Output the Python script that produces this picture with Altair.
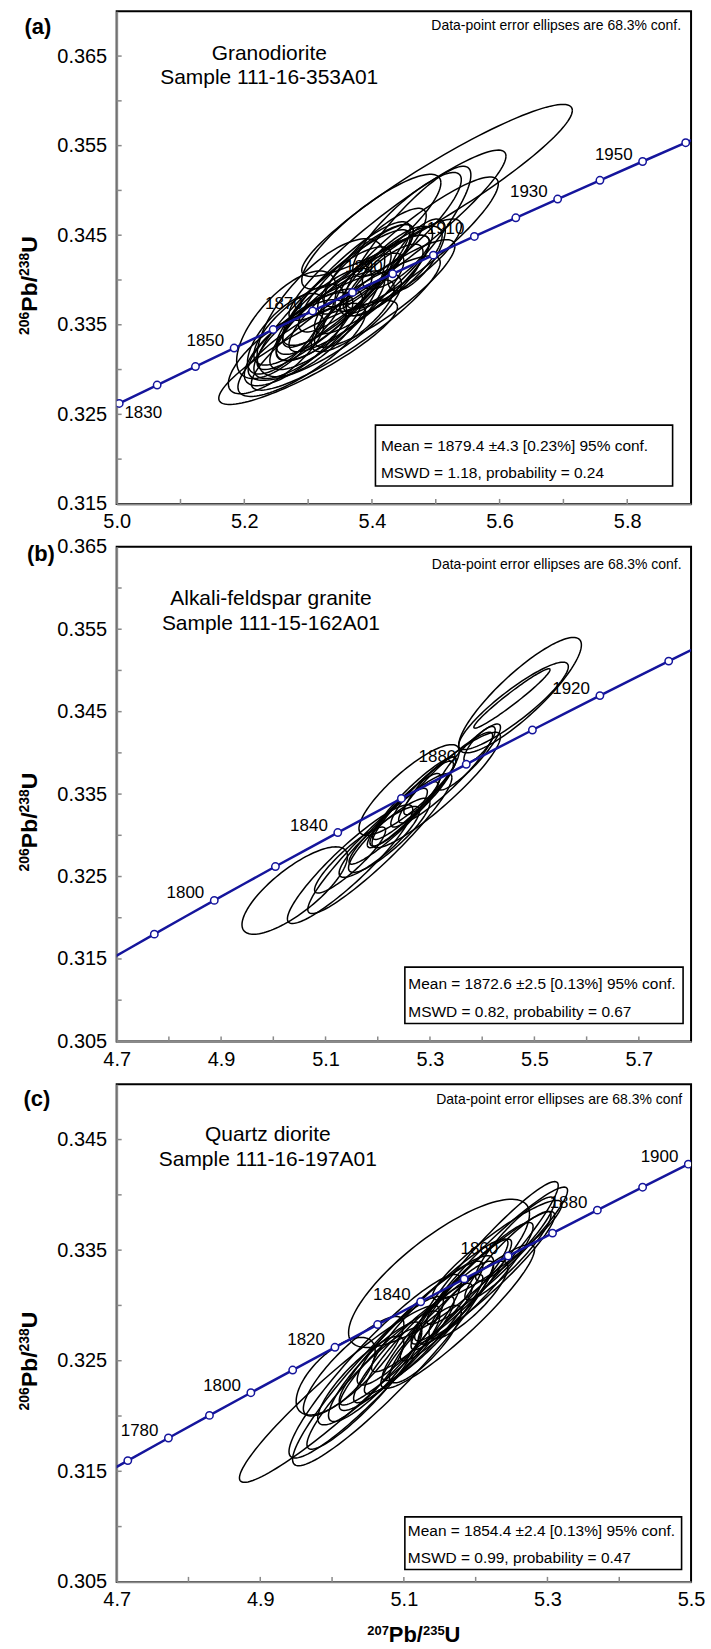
import numpy as np
import pandas as pd
import altair as alt

FONT = "Liberation Sans, Arial, sans-serif"
BLUE = "#15159c"
GREY = "#8a8a8a"

# U-Pb decay constants (per year)
L238 = 1.55125e-10
L235 = 9.8485e-10

# ---------------- (a) Granodiorite, 111-16-353A01 ----------------
a_cx = [5.502, 5.300, 5.359, 5.399, 5.440, 5.266, 5.326, 5.320, 5.470, 5.455,
        5.450, 5.430, 5.400, 5.380, 5.350, 5.330, 5.300, 5.280, 5.290, 5.370,
        5.420, 5.440, 5.390, 5.340, 5.250, 5.310, 5.360, 5.470, 5.420, 5.265,
        5.345, 5.405, 5.285, 5.375, 5.325, 5.455]
a_cy = [0.3500, 0.3319, 0.3352, 0.3454, 0.3450, 0.3350, 0.3348, 0.3369, 0.3440, 0.3445,
        0.3418, 0.3410, 0.3395, 0.3385, 0.3370, 0.3355, 0.3340, 0.3330, 0.3322, 0.3360,
        0.3400, 0.3425, 0.3412, 0.3378, 0.3318, 0.3348, 0.3395, 0.3428, 0.3385, 0.3340,
        0.3382, 0.3425, 0.3350, 0.3402, 0.3365, 0.3462]
a_sx = [0.212, 0.140, 0.148, 0.109, 0.170, 0.078, 0.120, 0.100, 0.128, 0.100,
        0.090, 0.080, 0.090, 0.110, 0.100, 0.090, 0.085, 0.080, 0.100, 0.065,
        0.060, 0.055, 0.075, 0.120, 0.075, 0.060, 0.100, 0.045, 0.110, 0.060,
        0.085, 0.080, 0.070, 0.090, 0.075, 0.085]
a_sy = [0.0096, 0.0058, 0.0075, 0.0064, 0.0095, 0.0060, 0.0060, 0.0077, 0.0075, 0.0082,
        0.0050, 0.0050, 0.0055, 0.0065, 0.0060, 0.0055, 0.0050, 0.0048, 0.0052, 0.0040,
        0.0040, 0.0035, 0.0050, 0.0078, 0.0045, 0.0038, 0.0070, 0.0040, 0.0060, 0.0045,
        0.0055, 0.0055, 0.0045, 0.0060, 0.0048, 0.0058]
a_rho = [0.93, 0.88, 0.90, 0.85, 0.93, 0.67, 0.80, 0.70, 0.90, 0.88,
         0.85, 0.80, 0.85, 0.88, 0.85, 0.82, 0.78, 0.75, 0.80, 0.78,
         0.78, 0.75, 0.85, 0.90, 0.75, 0.70, 0.88, 0.70, 0.88, 0.70,
         0.82, 0.85, 0.75, 0.86, 0.80, 0.86]
a_line_ages = list(range(1810, 1971, 10))
a_node_ages = list(range(1820, 1961, 10))
a_label_ages = [1850, 1870, 1890, 1910, 1930, 1950]
a_label_below = [1830]

# ---------------- (b) Alkali-feldspar granite, 111-15-162A01 ----------------
b_cx = [5.4725, 5.460, 5.457, 5.041, 5.147, 5.204, 5.147, 5.203, 5.222, 5.260,
        5.312, 5.330, 5.395, 5.250, 5.270, 5.285, 5.240, 5.300, 5.230, 5.375]
b_cy = [0.3470, 0.3457, 0.3466, 0.3233, 0.3265, 0.3290, 0.3270, 0.3292, 0.3300, 0.3355,
        0.3355, 0.3370, 0.3410, 0.3330, 0.3345, 0.3350, 0.3322, 0.3360, 0.3315, 0.3395]
b_sx = [0.1175, 0.105, 0.073, 0.101, 0.120, 0.138, 0.068, 0.077, 0.078, 0.096,
        0.123, 0.090, 0.030, 0.070, 0.080, 0.060, 0.055, 0.050, 0.085, 0.060]
b_sy = [0.0070, 0.0053, 0.0036, 0.0053, 0.0072, 0.0085, 0.0040, 0.0043, 0.0045, 0.0055,
        0.0070, 0.0055, 0.0022, 0.0045, 0.0050, 0.0040, 0.0035, 0.0035, 0.0050, 0.0040]
b_rho = [0.87, 0.90, 0.97, 0.78, 0.92, 0.94, 0.90, 0.88, 0.88, 0.85,
         0.92, 0.93, 0.80, 0.92, 0.93, 0.90, 0.88, 0.90, 0.94, 0.90]
b_line_ages = list(range(1750, 1971, 10))
b_node_ages = list(range(1780, 1941, 20))
b_label_ages = [1800, 1840, 1880, 1920]

# ---------------- (c) Quartz diorite, 111-16-197A01 ----------------
c_cx = [5.149, 5.010, 5.060, 5.085, 5.005, 5.215, 5.230, 5.230, 5.175, 5.200,
        5.180, 5.160, 5.140, 5.120, 5.100, 5.080, 5.060, 5.040, 5.045, 5.110,
        5.150, 5.245, 5.255, 5.190, 5.130, 5.095, 5.210, 5.030]
c_cy = [0.3329, 0.3220, 0.3245, 0.3250, 0.3236, 0.3340, 0.3345, 0.3350, 0.3290, 0.3320,
        0.3310, 0.3295, 0.3280, 0.3270, 0.3260, 0.3250, 0.3240, 0.3232, 0.3225, 0.3275,
        0.3300, 0.3345, 0.3360, 0.3305, 0.3265, 0.3268, 0.3325, 0.3245]
c_sx = [0.126, 0.139, 0.120, 0.140, 0.055, 0.100, 0.098, 0.090, 0.107, 0.080,
        0.070, 0.065, 0.070, 0.075, 0.070, 0.070, 0.065, 0.060, 0.080, 0.100,
        0.095, 0.060, 0.055, 0.055, 0.050, 0.060, 0.100, 0.070]
c_sy = [0.0067, 0.0080, 0.0083, 0.0095, 0.0035, 0.0072, 0.0062, 0.0045, 0.0065, 0.0055,
        0.0050, 0.0045, 0.0048, 0.0050, 0.0048, 0.0045, 0.0045, 0.0040, 0.0055, 0.0065,
        0.0060, 0.0040, 0.0038, 0.0035, 0.0035, 0.0040, 0.0060, 0.0045]
c_rho = [0.80, 0.95, 0.93, 0.94, 0.65, 0.95, 0.95, 0.92, 0.93, 0.93,
         0.93, 0.92, 0.93, 0.93, 0.92, 0.90, 0.88, 0.85, 0.92, 0.94,
         0.94, 0.92, 0.90, 0.85, 0.85, 0.88, 0.94, 0.85]
c_line_ages = list(range(1750, 1921, 10))
c_node_ages = list(range(1770, 1901, 10))
c_label_ages = [1780, 1800, 1820, 1840, 1860, 1880, 1900]

# axis titles as (text, superscript?) runs
Y_TITLE = [("206", True), ("Pb/", False), ("238", True), ("U", False)]
X_TITLE = [("207", True), ("Pb/", False), ("235", True), ("U", False)]

W = 576
# advance widths (em) of the bold sans glyphs used in the titles
ADV = {"P": 0.667, "b": 0.611, "/": 0.278, "U": 0.722}


def concordia(ages):
    t = np.asarray(ages, dtype=float) * 1e6
    return pd.DataFrame({"x": np.expm1(L235 * t), "y": np.expm1(L238 * t),
                         "age": [str(a) for a in ages]})


def ellipses(cx, cy, sx, sy, rho):
    t = np.linspace(0, 2 * np.pi, 121)
    parts = []
    for i in range(len(cx)):
        xs = cx[i] + sx[i] * np.cos(t)
        ys = cy[i] + sy[i] * (rho[i] * np.cos(t) + np.sqrt(1 - rho[i] ** 2) * np.sin(t))
        parts.append(pd.DataFrame({"x": xs, "y": ys, "id": i, "k": np.arange(len(t))}))
    return pd.concat(parts, ignore_index=True)


def txt(s, x, y, size=15.5, align="left", weight="normal", baseline="middle", angle=0):
    return alt.Chart(pd.DataFrame({"t": [s]})).mark_text(
        font=FONT, fontSize=size, align=align, baseline=baseline,
        fontWeight=weight, color="black", angle=angle
    ).encode(x=alt.value(x), y=alt.value(y), text="t:N")


def run_width(s, size):
    return sum(ADV.get(ch, 0.556) for ch in s) * size


def title_runs(runs, center, base, vertical, big=23, small=14, lift=8):
    """Bold title with raised isotope mass numbers, laid out run by run."""
    sizes = [small if sup else big for _, sup in runs]
    total = sum(run_width(s, z) for (s, _), z in zip(runs, sizes))
    pos = center + total / 2 if vertical else center - total / 2
    out = []
    for (s, sup), z in zip(runs, sizes):
        off = -lift if sup else 0
        if vertical:
            out.append(txt(s, base + off, pos, size=z, weight="bold",
                           baseline="alphabetic", angle=270))
            pos -= run_width(s, z)
        else:
            out.append(txt(s, pos, base + off, size=z, weight="bold",
                           baseline="alphabetic"))
            pos += run_width(s, z)
    return out


def panel(p):
    h = p["h"]
    xs = alt.Scale(domain=p["xdom"], nice=False, zero=False)
    ys = alt.Scale(domain=p["ydom"], nice=False, zero=False)
    xaxis = alt.Axis(values=p["xlab"], format=".1f", grid=False, ticks=False, tickSize=0,
                     domainColor=GREY, domainWidth=2, labelFont=FONT, labelFontSize=20,
                     labelColor="black", labelPadding=8, labelFlush=False,
                     labelOverlap=False, title=None)
    yaxis = alt.Axis(values=p["ylab"], format=".3f", grid=False, ticks=False, tickSize=0,
                     domainColor=GREY, domainWidth=2, labelFont=FONT, labelFontSize=20,
                     labelColor="black", labelPadding=10, labelFlush=False,
                     labelOverlap=False, title=None)
    X = lambda f: alt.X(f, type="quantitative", scale=xs, axis=xaxis)
    Y = lambda f: alt.Y(f, type="quantitative", scale=ys, axis=yaxis)

    layers = []
    labs = concordia(p["labels"])
    layers.append(alt.Chart(labs).mark_text(
        font=FONT, fontSize=17, align="right", baseline="middle", dx=-10, dy=-7,
        color="black", clip=True).encode(x=X("x"), y=Y("y"), text="age:N"))
    if p.get("labels_below"):
        lb = concordia(p["labels_below"])
        layers.append(alt.Chart(lb).mark_text(
            font=FONT, fontSize=17, align="right", baseline="middle", dx=5, dy=28,
            color="black").encode(x=X("x"), y=Y("y"), text="age:N"))
    layers.append(alt.Chart(ellipses(*p["ell"])).mark_line(
        color="black", strokeWidth=1.5, clip=True).encode(
        x=X("x"), y=Y("y"), detail="id:N", order="k:Q"))
    layers.append(alt.Chart(concordia(p["line"])).mark_line(
        color=BLUE, strokeWidth=2.5, clip=True).encode(x=X("x"), y=Y("y"), order="x:Q"))
    layers.append(alt.Chart(concordia(p["nodes"])).mark_point(
        shape="circle", filled=True, fill="white", stroke=BLUE, strokeWidth=1.5,
        size=55, opacity=1, clip=True).encode(x=X("x"), y=Y("y")))
    # inward tick marks
    layers.append(alt.Chart(pd.DataFrame({"v": p["xticks"]})).mark_rule(
        color=GREY, strokeWidth=1.5).encode(x=X("v"), y=alt.value(h), y2=alt.value(h - 5)))
    layers.append(alt.Chart(pd.DataFrame({"v": p["yticks"]})).mark_rule(
        color=GREY, strokeWidth=1.5).encode(y=Y("v"), x=alt.value(0), x2=alt.value(5)))
    # annotations
    layers.append(txt(p["note"], p["note_x"], p["note_y"], size=14, align="right"))
    layers.append(txt(p["rock"], p["title_x"], p["title_y"][0], size=21, align="center"))
    layers.append(txt(p["sample"], p["title_x"], p["title_y"][1], size=21, align="center"))
    bx0, bx1, by0, by1 = p["box"]
    layers.append(alt.Chart(pd.DataFrame({"t": [0]})).mark_rect(
        fill="white", stroke="black", strokeWidth=1.6).encode(
        x=alt.value(bx0), x2=alt.value(bx1), y=alt.value(by0), y2=alt.value(by1)))
    layers.append(txt(p["mean"], p["box_tx"], p["box_ty"][0]))
    layers.append(txt(p["mswd"], p["box_tx"], p["box_ty"][1]))
    layers.append(txt(p["tag"], p["tag_xy"][0], p["tag_xy"][1], size=22, align="center",
                      weight="bold"))
    # axis titles
    layers += title_runs(Y_TITLE, h / 2 + 28, -80, vertical=True)
    if p.get("xtitle"):
        layers += title_runs(X_TITLE, 298, h + 60, vertical=False, big=22, small=13, lift=7)
    if p.get("anchor"):
        # pins the left/top edge of the drawing so the plot frame lands where intended
        ax_, ay_ = p["anchor"]
        layers.append(alt.Chart(pd.DataFrame({"t": [0]})).mark_rule(
            strokeOpacity=0, strokeWidth=1).encode(
            x=alt.value(ax_), x2=alt.value(ax_ + 1), y=alt.value(ay_)))
    return alt.layer(*layers).properties(width=W, height=h)


pa = dict(h=494, xdom=[5.0, 5.9], ydom=[0.315, 0.370],
          xlab=[5.0, 5.2, 5.4, 5.6, 5.8],
          ylab=[0.315, 0.325, 0.335, 0.345, 0.355, 0.365],
          xticks=[5.1, 5.2, 5.3, 5.4, 5.5, 5.6, 5.7, 5.8],
          yticks=[0.320, 0.325, 0.330, 0.335, 0.340, 0.345, 0.350, 0.355, 0.360, 0.365],
          ell=(a_cx, a_cy, a_sx, a_sy, a_rho), line=a_line_ages, nodes=a_node_ages,
          labels=a_label_ages, labels_below=a_label_below,
          note="Data-point error ellipses are 68.3% conf.", note_x=566, note_y=15,
          rock="Granodiorite", sample="Sample 111-16-353A01", title_x=153, title_y=(43, 67),
          box=(259.5, 557.5, 415, 476), box_tx=265, box_ty=(436, 463),
          mean="Mean = 1879.4 ±4.3 [0.23%] 95% conf.",
          mswd="MSWD = 1.18, probability = 0.24", tag="(a)", tag_xy=(-79, 16),
          anchor=(-116, -8))

pb = dict(h=496, xdom=[4.7, 5.8], ydom=[0.305, 0.365],
          xlab=[4.7, 4.9, 5.1, 5.3, 5.5, 5.7],
          ylab=[0.305, 0.315, 0.325, 0.335, 0.345, 0.355, 0.365],
          xticks=[4.8, 4.9, 5.0, 5.1, 5.2, 5.3, 5.4, 5.5, 5.6, 5.7],
          yticks=[0.310, 0.315, 0.320, 0.325, 0.330, 0.335, 0.340, 0.345, 0.350,
                  0.355, 0.360],
          ell=(b_cx, b_cy, b_sx, b_sy, b_rho), line=b_line_ages, nodes=b_node_ages,
          labels=b_label_ages,
          note="Data-point error ellipses are 68.3% conf.", note_x=566.5, note_y=18,
          rock="Alkali-feldspar granite", sample="Sample 111-15-162A01", title_x=154.7,
          title_y=(52, 77), box=(289, 568, 421.5, 478), box_tx=292.5, box_ty=(438.7, 467),
          mean="Mean = 1872.6 ±2.5 [0.13%] 95% conf.",
          mswd="MSWD = 0.82, probability = 0.67", tag="(b)", tag_xy=(-76, 7))

pc = dict(h=499, xdom=[4.7, 5.5], ydom=[0.305, 0.350],
          xlab=[4.7, 4.9, 5.1, 5.3, 5.5],
          ylab=[0.305, 0.315, 0.325, 0.335, 0.345],
          xticks=[4.8, 4.9, 5.0, 5.1, 5.2, 5.3, 5.4],
          yticks=[0.310, 0.315, 0.320, 0.325, 0.330, 0.335, 0.340, 0.345],
          ell=(c_cx, c_cy, c_sx, c_sy, c_rho), line=c_line_ages, nodes=c_node_ages,
          labels=c_label_ages, xtitle=True,
          note="Data-point error ellipses are 68.3% conf", note_x=567, note_y=16,
          rock="Quartz diorite", sample="Sample 111-16-197A01", title_x=151.6,
          title_y=(50.6, 75.5), box=(289, 566.5, 433.8, 486.6), box_tx=292,
          box_ty=(448, 475),
          mean="Mean = 1854.4 ±2.4 [0.13%] 95% conf.",
          mswd="MSWD = 0.99, probability = 0.47", tag="(c)", tag_xy=(-80, 15))

chart = alt.vconcat(panel(pa), panel(pb), panel(pc), spacing=43, bounds="flush").properties(
    padding={"left": 0, "top": 0, "right": 5, "bottom": 2},
    background="white",
).configure_view(stroke="black", strokeWidth=2)

chart.save("out.html", embed_options={"renderer": "svg", "actions": False})
